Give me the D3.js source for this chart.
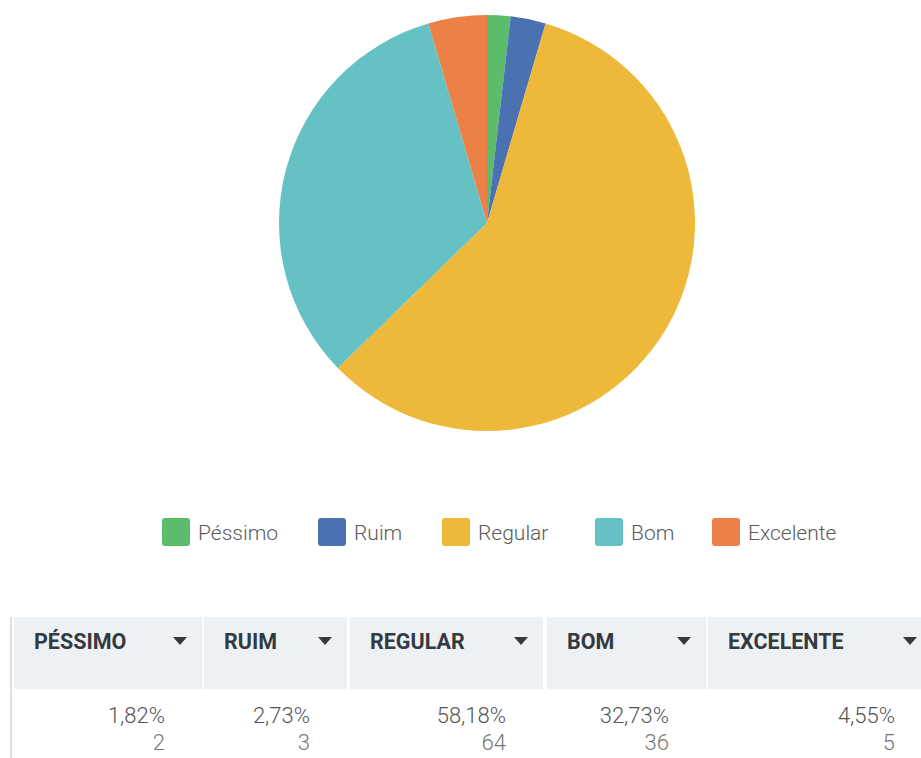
<!DOCTYPE html>
<html><head><meta charset="utf-8">
<script src="https://cdn.jsdelivr.net/npm/d3@7"></script>
<style>html,body{margin:0;padding:0;background:#fff;}svg{display:block;}</style>
</head><body>
<svg id="c" width="921" height="758"></svg>
<script>
const categories = ["Péssimo","Ruim","Regular","Bom","Excelente"];
const headers = ["PÉSSIMO","RUIM","REGULAR","BOM","EXCELENTE"];
const counts = [2,3,64,36,5];
const percents = ["1,82%","2,73%","58,18%","32,73%","4,55%"];
const colors = ["#5bbd6c","#4a72b3","#eeb83b","#66c1c4","#ec8147"];

const svg = d3.select("#c");
const font = "Roboto, 'Open Sans', sans-serif";

// pie
const cx = 487, cy = 223, r = 208;
const pie = d3.pie().sort(null).value(d => d);
const arc = d3.arc().innerRadius(0).outerRadius(r);
const g = svg.append("g").attr("transform", `translate(${cx},${cy})`);
g.selectAll("path").data(pie(counts)).join("path")
  .attr("d", arc).attr("fill", (d,i) => colors[i]);

// legend
const legX = [162, 318, 442, 595, 712];
const leg = svg.append("g");
categories.forEach((c,i) => {
  leg.append("rect").attr("x", legX[i]).attr("y", 518).attr("width", 28).attr("height", 28)
    .attr("rx", 3).attr("fill", colors[i]);
  leg.append("text").attr("x", legX[i] + 36).attr("y", 540)
    .attr("font-family", font).attr("font-weight", 300).attr("font-size", 21)
    .attr("fill", "#5a5a5a").text(c);
});

// table
const colStart = [14, 204, 350, 547, 708];
const colEnd = [202, 347, 543, 706, 932];
const t = svg.append("g");
t.append("rect").attr("x", 10).attr("y", 617).attr("width", 2).attr("height", 141).attr("fill", "#dcdfe2");
headers.forEach((h,i) => {
  t.append("rect").attr("x", colStart[i]).attr("y", 617).attr("width", colEnd[i]-colStart[i]).attr("height", 72)
    .attr("fill", "#eef1f3");
  t.append("text").attr("x", colStart[i] + 20).attr("y", 649)
    .attr("font-family", font).attr("font-weight", 700).attr("font-size", 21.5)
    .attr("fill", "#333a40").text(h);
  const tx = colEnd[i] - 22;
  t.append("path").attr("d", `M${tx-7},637L${tx+7},637L${tx},645Z`).attr("fill", "#333a40");
  t.append("text").attr("x", colEnd[i] - 37).attr("y", 723).attr("text-anchor", "end")
    .attr("font-family", font).attr("font-weight", 300).attr("font-size", 22)
    .attr("fill", "#555").text(percents[i]);
  t.append("text").attr("x", colEnd[i] - 37).attr("y", 750).attr("text-anchor", "end")
    .attr("font-family", font).attr("font-weight", 300).attr("font-size", 22)
    .attr("fill", "#777").text(counts[i]);
});
</script>
</body></html>
